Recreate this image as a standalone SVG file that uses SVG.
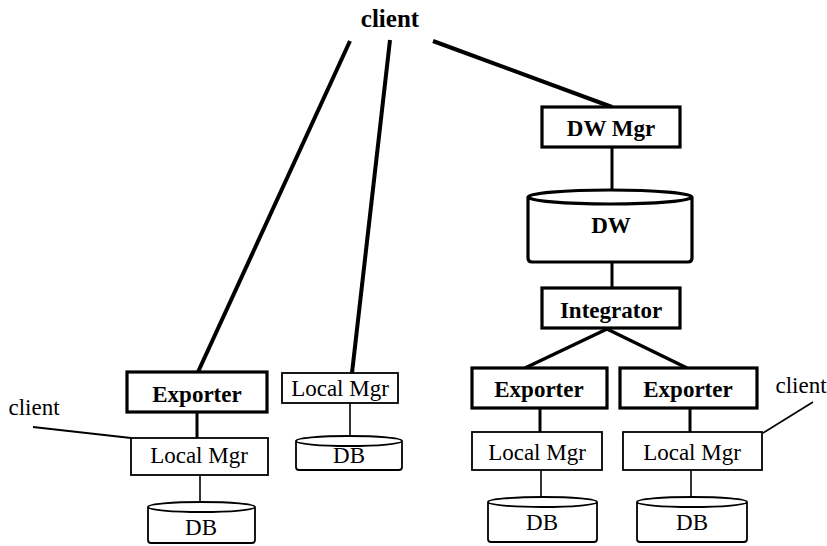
<svg xmlns="http://www.w3.org/2000/svg" width="827" height="546" viewBox="0 0 827 546">
  <style>
    text { font-family: "Times New Roman", "Liberation Serif", Tinos, "DejaVu Serif", serif; font-size: 23px; font-weight: normal; fill: #000; text-anchor: middle; }
    .b { font-weight: bold; }
    .box { fill: #fff; stroke: #000; }
    .thick { stroke-width: 3.2; }
    .thin { stroke-width: 1.8; }
    .ln { stroke: #000; fill: none; stroke-linecap: butt; }
  </style>

  <!-- connectors -->
  <g id="connectors">
    <line class="ln" x1="350" y1="41" x2="198" y2="372" stroke-width="4"/>
    <line class="ln" x1="390" y1="40" x2="352" y2="373" stroke-width="4"/>
    <line class="ln" x1="433" y1="41" x2="612" y2="107" stroke-width="4"/>
    <line class="ln" x1="612" y1="147" x2="612" y2="191" stroke-width="3"/>
    <line class="ln" x1="612" y1="262" x2="612" y2="288" stroke-width="3"/>
    <line class="ln" x1="607" y1="329" x2="525" y2="368" stroke-width="3.5"/>
    <line class="ln" x1="607" y1="329" x2="687" y2="368" stroke-width="3.5"/>
    <line class="ln" x1="197" y1="412" x2="197" y2="438" stroke-width="3"/>
    <line class="ln" x1="200" y1="475" x2="200" y2="502" stroke-width="1.6"/>
    <line class="ln" x1="350" y1="403" x2="350" y2="436" stroke-width="1.6"/>
    <line class="ln" x1="540" y1="408" x2="540" y2="432" stroke-width="3"/>
    <line class="ln" x1="690" y1="408" x2="690" y2="432" stroke-width="3"/>
    <line class="ln" x1="541" y1="470" x2="541" y2="497" stroke-width="1.6"/>
    <line class="ln" x1="691" y1="470" x2="691" y2="497" stroke-width="1.6"/>
    <line class="ln" x1="33" y1="427" x2="131" y2="438" stroke-width="2"/>
    <line class="ln" x1="763" y1="433" x2="813" y2="402" stroke-width="1.6"/>
  </g>

  <g id="client-top"><text class="b" x="390" y="27" style="font-size:25px">client</text></g>
  <g id="client-left"><text x="34" y="415">client</text></g>
  <g id="client-right"><text x="801" y="393">client</text></g>

  <g id="dw-mgr">
    <rect class="box thick" x="542" y="107" width="138" height="40"/>
    <text class="b" x="611" y="136">DW Mgr</text>
  </g>

  <g id="dw">
    <path class="box thick" d="M528,197 A82,7 0 0 1 692,197 L692,258 Q692,262 688,262 L532,262 Q528,262 528,258 Z M528,197 A82,7 0 0 0 692,197"/>
    <text class="b" x="611" y="233">DW</text>
  </g>

  <g id="integrator">
    <rect class="box thick" x="542" y="288" width="138" height="40"/>
    <text class="b" x="611" y="318">Integrator</text>
  </g>

  <g id="exporter-1">
    <rect class="box thick" x="127" y="372" width="140" height="40"/>
    <text class="b" x="197" y="402">Exporter</text>
  </g>
  <g id="local-mgr-1">
    <rect class="box thin" x="131" y="438" width="137" height="37"/>
    <text x="199" y="463">Local Mgr</text>
  </g>
  <g id="db-1">
    <path class="box thin" d="M148,507 A53.5,5 0 0 1 255,507 L255,540 Q255,543 252,543 L151,543 Q148,543 148,540 Z M148,507 A53.5,5 0 0 0 255,507"/>
    <text x="201" y="535">DB</text>
  </g>

  <g id="local-mgr-2">
    <rect class="box thin" x="282" y="373" width="116" height="30"/>
    <text x="340" y="396">Local Mgr</text>
  </g>
  <g id="db-2">
    <path class="box thin" d="M296,441 A53,5 0 0 1 402,441 L402,467 Q402,470 399,470 L299,470 Q296,470 296,467 Z M296,441 A53,5 0 0 0 402,441"/>
    <text x="349" y="463">DB</text>
  </g>

  <g id="exporter-2">
    <rect class="box thick" x="472" y="368" width="135" height="40"/>
    <text class="b" x="539" y="397">Exporter</text>
  </g>
  <g id="local-mgr-3">
    <rect class="box thin" x="472" y="432" width="130" height="38"/>
    <text x="537" y="460">Local Mgr</text>
  </g>
  <g id="db-3">
    <path class="box thin" d="M488,502 A54.5,5 0 0 1 597,502 L597,539 Q597,542 594,542 L491,542 Q488,542 488,539 Z M488,502 A54.5,5 0 0 0 597,502"/>
    <text x="542" y="530">DB</text>
  </g>

  <g id="exporter-3">
    <rect class="box thick" x="620" y="368" width="137" height="40"/>
    <text class="b" x="688" y="397">Exporter</text>
  </g>
  <g id="local-mgr-4">
    <rect class="box thin" x="623" y="432" width="139" height="38"/>
    <text x="692" y="460">Local Mgr</text>
  </g>
  <g id="db-4">
    <path class="box thin" d="M637,502 A55,5 0 0 1 747,502 L747,539 Q747,542 744,542 L640,542 Q637,542 637,539 Z M637,502 A55,5 0 0 0 747,502"/>
    <text x="692" y="530">DB</text>
  </g>
</svg>
